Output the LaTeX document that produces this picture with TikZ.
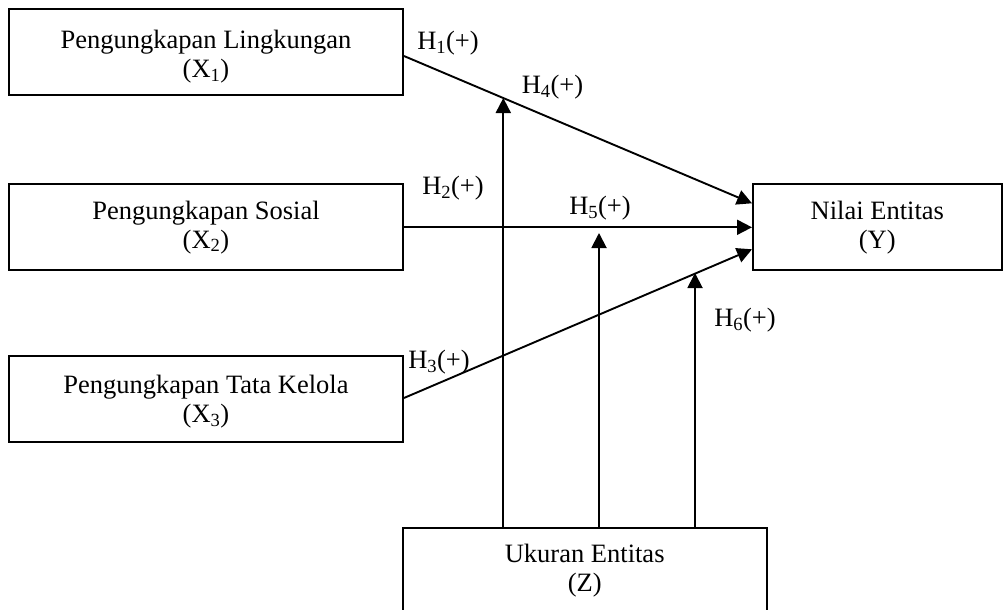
\documentclass[tikz,border=0pt]{standalone}
\usepackage{fontspec}
\setmainfont{Liberation Serif}
\usetikzlibrary{arrows.meta}
\begin{document}
\begin{tikzpicture}[x=1pt,y=-1pt,
  txt/.style={font=\fontsize{26.5}{29}\selectfont},
  box/.style={draw,line width=1.9pt,inner sep=0pt,minimum height=86pt},
  intxt/.style={txt,inner sep=0pt,align=center},
  arr/.style={line width=1.9pt,-{Triangle[length=15pt,width=15pt]}},
  lbl/.style={txt,inner sep=0pt}]
\useasboundingbox (0,0) rectangle (1006,610);
\node[box,minimum width=394pt] (X1) at (206,52) {};
\node[box,minimum width=394pt] (X2) at (206,227.3) {};
\node[box,minimum width=394pt] (X3) at (206,399) {};
\node[box,minimum width=248.7pt] (Y) at (877.3,227.3) {};
\node[box,minimum width=364pt] (Z) at (584.7,570.7) {};
\node[intxt] (X1t) at ([yshift=-5pt]X1.center) {Pengungkapan Lingkungan\\(X\textsubscript{1})};
\node[intxt] (X2t) at (X2.center) {Pengungkapan Sosial\\(X\textsubscript{2})};
\node[intxt] (X3t) at ([yshift=-3pt]X3.center) {Pengungkapan Tata Kelola\\(X\textsubscript{3})};
\node[intxt] (Yt) at (Y.center) {Nilai Entitas\\(Y)};
\node[intxt] (Zt) at (Z.center) {Ukuran Entitas\\(Z)};
% main paths
\draw[arr] ([yshift=-4pt]X1.east) -- ([yshift=24pt]Y.west);
\draw[arr] (X2.east) -- (Y.west);
\draw[arr] ([yshift=1pt]X3.east) -- ([yshift=-22pt]Y.west);
% moderating paths
\coordinate (t1) at (503.3,98);
\coordinate (t2) at (599,233);
\coordinate (t3) at (695,273);
\draw[arr] (Z.north -| t1) -- (t1);
\draw[arr] (Z.north -| t2) -- (t2);
\draw[arr] (Z.north -| t3) -- (t3);
% labels
\node[lbl] (h1) at (448,43) {H\textsubscript{1}(+)};
\node[lbl] (h4) at (552.5,87) {H\textsubscript{4}(+)};
\node[lbl] (h2) at (453,188) {H\textsubscript{2}(+)};
\node[lbl] (h5) at (600,208) {H\textsubscript{5}(+)};
\node[lbl] (h3) at (439,362) {H\textsubscript{3}(+)};
\node[lbl] (h6) at (745,320) {H\textsubscript{6}(+)};
\end{tikzpicture}
\end{document}
